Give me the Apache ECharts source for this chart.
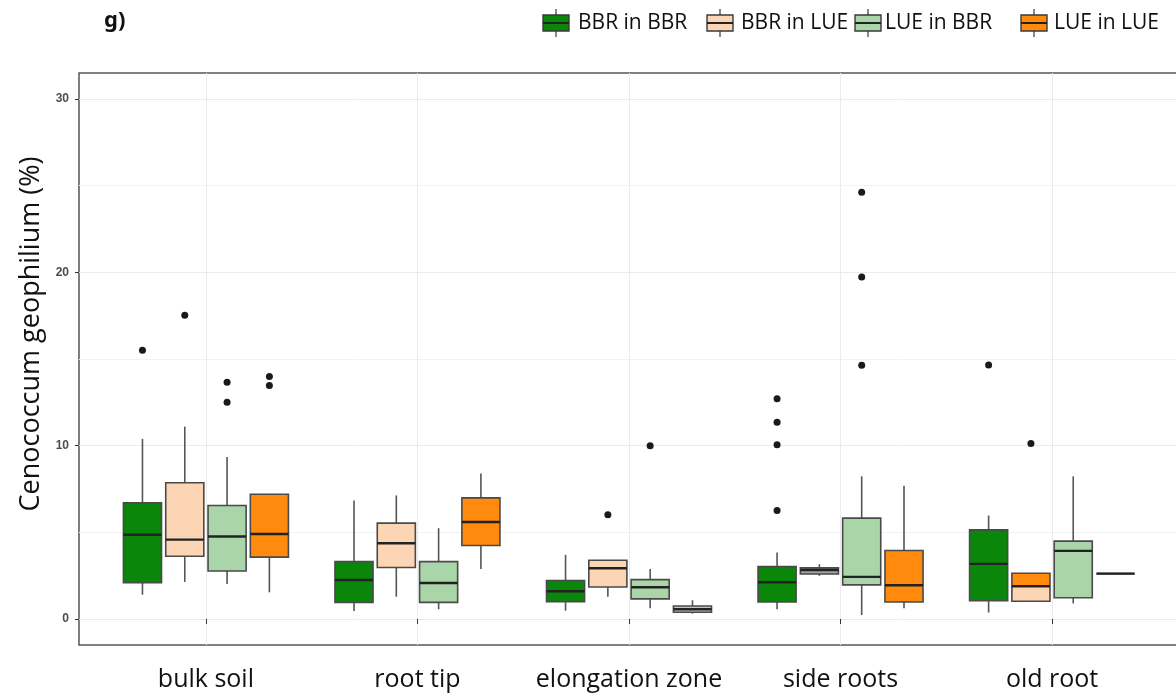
<!DOCTYPE html>
<html>
<head>
<meta charset="utf-8">
<script src="https://cdn.jsdelivr.net/npm/echarts@6/dist/echarts.min.js"></script>
<style>
  html, body { margin: 0; padding: 0; background: #ffffff; }
  #chart { width: 1176px; height: 693px; }
</style>
</head>
<body>
<div id="chart"></div>
<script>
// Sampling compartments along the x axis
const categories = ['bulk soil', 'root tip', 'elongation zone', 'side roots', 'old root'];
// Groups (one box per compartment each)
const groups = ['BBR in BBR', 'BBR in LUE', 'LUE in BBR', 'LUE in LUE'];
const yTicks = [0, 10, 20, 30];

// Box statistics per compartment: [min, Q1, median, Q3, max] (% relative abundance)
const bbrInBbr = [
  [1.40, 2.10, 4.86, 6.70, 10.39],
  [0.46, 0.96, 2.25, 3.31, 6.84],
  [0.48, 1.00, 1.60, 2.22, 3.70],
  [0.56, 0.98, 2.12, 3.02, 3.83],
  [0.37, 1.06, 3.18, 5.14, 5.97]
];
const bbrInLue = [
  [2.14, 3.62, 4.58, 7.86, 11.10],
  [1.29, 2.97, 4.37, 5.53, 7.13],
  [1.29, 1.85, 2.93, 3.39, 3.39],
  [2.49, 2.60, 2.83, 2.95, 3.16],
  [1.02, 1.02, 1.89, 2.64, 2.64]
];
const lueInBbr = [
  [2.02, 2.77, 4.76, 6.55, 9.35],
  [0.56, 0.96, 2.08, 3.31, 5.24],
  [0.62, 1.16, 1.83, 2.27, 2.89],
  [0.23, 1.97, 2.43, 5.82, 8.23],
  [0.90, 1.23, 3.93, 4.49, 8.23]
];
const lueInLue = [
  [1.54, 3.57, 4.90, 7.20, 7.20],
  [2.89, 4.24, 5.60, 6.99, 8.40],
  [0.31, 0.39, 0.56, 0.75, 1.08],
  [0.62, 0.98, 1.95, 3.95, 7.69],
  [2.62, 2.62, 2.62, 2.62, 2.62]
];

// Outliers: [compartment index, value]
const bbrInBbrOutliers = [[0, 15.50], [3, 12.70], [3, 11.35], [3, 10.06], [3, 6.26], [4, 14.66]];
const bbrInLueOutliers = [[0, 17.53], [2, 6.01], [4, 10.12]];
const lueInBbrOutliers = [[0, 13.66], [0, 12.50], [2, 10.00], [3, 24.62], [3, 19.73], [3, 14.64]];
const lueInLueOutliers = [[0, 13.99], [0, 13.47]];

const boxStats = [bbrInBbr, bbrInLue, lueInBbr, lueInLue];
const outlierSets = [bbrInBbrOutliers, bbrInLueOutliers, lueInBbrOutliers, lueInLueOutliers];

// ---- styling ----
const fills = ['#0a870a', '#fcd5b5', '#a9d5a9', '#ff8a0d'];
const DODGE = 0.2;      // slot width per group (category units)
const BOX_W = 0.18;     // box width (category units)
const offsets = groups.map((g, i) => (i - 1.5) * DODGE);
// per-box fill exceptions, keyed "group|compartment"
const fillExceptions = {
  '1|3': { fill: '#a3a3a3' },
  '3|2': { fill: '#c4c4c4' },
  '1|4': { upperFill: '#ff8a0d' }
};
const BORDER = '#4a4a4a';
const MEDIAN = '#222222';

function boxRenderer(gi) {
  return function (params, api) {
    const ci = api.value(0);
    const x = ci + 1 + offsets[gi];
    const vmin = api.value(1), q1 = api.value(2), med = api.value(3), q3 = api.value(4), vmax = api.value(5);
    const half = api.size([BOX_W / 2, 0])[0];
    const cx = api.coord([x, med])[0];
    const yMin = api.coord([x, vmin])[1];
    const yQ1 = api.coord([x, q1])[1];
    const yMed = api.coord([x, med])[1];
    const yQ3 = api.coord([x, q3])[1];
    const yMax = api.coord([x, vmax])[1];
    const ex = fillExceptions[gi + '|' + ci] || {};
    const fill = ex.fill || fills[gi];
    const children = [];
    if (yMax < yQ3 - 0.5) {
      children.push({ type: 'line', shape: { x1: cx, y1: yMax, x2: cx, y2: yQ3 },
        style: { stroke: '#555555', lineWidth: 1.6 } });
    }
    if (yMin > yQ1 + 0.5) {
      children.push({ type: 'line', shape: { x1: cx, y1: yQ1, x2: cx, y2: yMin },
        style: { stroke: '#555555', lineWidth: 1.6 } });
    }
    if (ex.upperFill) {
      // lower half (Q1..median) in the group colour, upper half (median..Q3) in the override colour
      children.push({ type: 'rect', shape: { x: cx - half, y: yMed, width: 2 * half, height: yQ1 - yMed },
        style: { fill: fill } });
      children.push({ type: 'rect', shape: { x: cx - half, y: yQ3, width: 2 * half, height: yMed - yQ3 },
        style: { fill: ex.upperFill } });
      children.push({ type: 'rect', shape: { x: cx - half, y: yQ3, width: 2 * half, height: yQ1 - yQ3 },
        style: { fill: 'rgba(0,0,0,0)', stroke: BORDER, lineWidth: 1.6 } });
    } else {
      children.push({ type: 'rect', shape: { x: cx - half, y: yQ3, width: 2 * half, height: Math.max(yQ1 - yQ3, 0) },
        style: { fill: fill, stroke: BORDER, lineWidth: 1.6 } });
    }
    children.push({ type: 'line', shape: { x1: cx - half, y1: yMed, x2: cx + half, y2: yMed },
      style: { stroke: MEDIAN, lineWidth: 2.4 } });
    return { type: 'group', children: children };
  };
}

const series = [];
groups.forEach((name, gi) => {
  series.push({
    name: name,
    type: 'custom',
    renderItem: boxRenderer(gi),
    encode: { x: 0, y: [1, 2, 3, 4, 5] },
    data: boxStats[gi].map((s, ci) => [ci].concat(s)),
    z: 3
  });
});
groups.forEach((name, gi) => {
  series.push({
    name: name + ' outliers',
    type: 'scatter',
    symbol: 'circle',
    symbolSize: 7,
    itemStyle: { color: '#1a1a1a', opacity: 1 },
    data: outlierSets[gi].map(p => [p[0] + 1 + offsets[gi], p[1]]),
    z: 4,
    silent: true
  });
});

// Legend drawn as boxplot glyphs
const legendIconX = [543, 707, 855, 1021];
const legendTextX = [578, 741, 885, 1054];
const legendGraphics = [];
groups.forEach((name, gi) => {
  const x0 = legendIconX[gi];
  const cx = x0 + 13;
  legendGraphics.push(
    { type: 'line', shape: { x1: cx, y1: 9, x2: cx, y2: 37 }, style: { stroke: '#555', lineWidth: 1.4 } },
    { type: 'rect', shape: { x: x0, y: 15, width: 26, height: 16 }, style: { fill: fills[gi], stroke: '#3a3a3a', lineWidth: 1.4 } },
    { type: 'line', shape: { x1: x0, y1: 23, x2: x0 + 26, y2: 23 }, style: { stroke: '#222', lineWidth: 2 } },
    { type: 'text', x: legendTextX[gi], y: 23,
      style: { text: name, fontSize: 21, fontFamily: 'Open Sans', fill: '#111', verticalAlign: 'middle' } }
  );
});

const chart = echarts.init(document.getElementById('chart'), null, { renderer: 'canvas' });
chart.setOption({
  animation: false,
  backgroundColor: '#ffffff',
  grid: {
    left: 79, top: 73, width: 1100, height: 572,
    outerBoundsMode: 'none',
    show: true, borderColor: '#4f5b4f', borderWidth: 1.5, backgroundColor: '#ffffff'
  },
  xAxis: {
    type: 'value',
    min: 0.4, max: 5.6, splitNumber: 5,
    axisLine: { show: false },
    axisTick: { show: true, customValues: [1, 2, 3, 4, 5], length: 5, lineStyle: { color: '#333', width: 1 } },
    axisLabel: {
      customValues: [1, 2, 3, 4, 5],
      formatter: v => categories[Math.round(v) - 1] || '',
      fontSize: 25, fontFamily: 'Open Sans', color: '#111', margin: 22
    },
    splitLine: { show: true, lineStyle: { color: '#ebebeb', width: 1 } }
  },
  yAxis: {
    type: 'value',
    min: -1.5, max: 31.5, splitNumber: 3,
    axisLine: { show: false },
    axisTick: { show: true, customValues: yTicks, length: 4, lineStyle: { color: '#333', width: 1 } },
    axisLabel: {
      customValues: yTicks,
      fontSize: 12, fontWeight: 'bold', fontFamily: 'Liberation Sans', color: '#4d4d4d', margin: 10
    },
    splitLine: { show: true, lineStyle: { color: '#ebebeb', width: 1 } },
    minorTick: { show: false, splitNumber: 2 },
    minorSplitLine: { show: true, lineStyle: { color: '#f2f2f2', width: 1 } }
  },
  graphic: [
    { type: 'text', x: 104, y: 10,
      style: { text: 'g)', fontSize: 22, fontWeight: 'bold', fontFamily: 'Noto Sans', fill: '#111' } },
    {
      type: 'text', x: 31, y: 334, rotation: Math.PI / 2,
      style: { text: 'Cenococcum geophilium (%)', fontSize: 27, fontFamily: 'Open Sans', fill: '#111', align: 'center', verticalAlign: 'middle' }
    }
  ].concat(legendGraphics),
  series: series
});
</script>
</body>
</html>
